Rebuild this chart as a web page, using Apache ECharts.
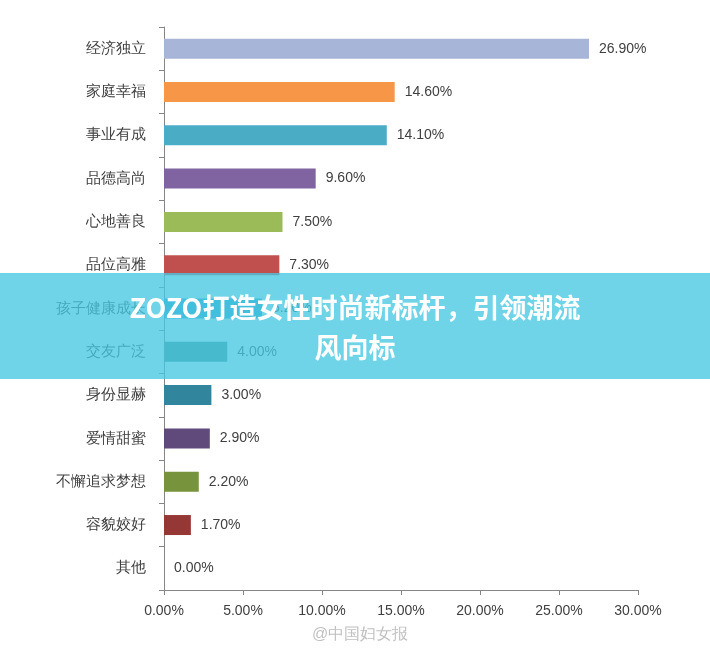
<!DOCTYPE html>
<html><head><meta charset="utf-8">
<script src="https://cdn.jsdelivr.net/npm/echarts@6/dist/echarts.min.js"></script>
<style>html,body{margin:0;background:#fff}#c{width:710px;height:655px}</style>
</head><body><div id="c"></div>
<script>
var categories = ['经济独立','家庭幸福','事业有成','品德高尚','心地善良','品位高雅','孩子健康成长','交友广泛','身份显赫','爱情甜蜜','不懈追求梦想','容貌姣好','其他'];
var values = [26.9,14.6,14.1,9.6,7.5,7.3,6.2,4.0,3.0,2.9,2.2,1.7,0];
var colors = ['#a7b5d8','#f79646','#4bacc6','#8064a2','#9bbb59','#c0504d','#2f9fc9','#4a8d86','#31859c','#604a7b','#77933c','#953735','#8eb4e3'];
var xTicks = [0,5,10,15,20,25,30];

var chart = echarts.init(document.getElementById('c'));
chart.setOption({
  animation: false,
  grid: { left: 164, right: 72, top: 27, bottom: 65 },
  xAxis: {
    type: 'value', min: xTicks[0], max: xTicks[xTicks.length - 1], interval: 5,
    axisLine: { show: true, lineStyle: { color: '#868686' } },
    axisTick: { show: true, lineStyle: { color: '#868686' } },
    splitLine: { show: false },
    axisLabel: { color: '#404040', fontSize: 14, margin: 14, formatter: function (v) { return v.toFixed(2) + '%'; } }
  },
  yAxis: {
    type: 'category', inverse: true, data: categories,
    axisLine: { lineStyle: { color: '#868686' } },
    axisTick: { show: true, lineStyle: { color: '#868686' } },
    axisLabel: { color: '#404040', fontSize: 15, margin: 18 }
  },
  series: [{
    type: 'bar', barWidth: 20,
    data: values.map(function (v, i) { return { value: v, itemStyle: { color: colors[i] } }; }),
    label: { show: true, position: 'right', distance: 10, color: '#404040', fontSize: 14,
      formatter: function (p) { return p.value.toFixed(2) + '%'; } }
  }],
  graphic: [
    { type: 'rect', left: 0, top: 273, z: 100, shape: { width: 710, height: 106 }, style: { fill: 'rgba(70,200,225,0.78)' } },
    { type: 'text', z: 101, style: {
      x: 355, y: 288, text: 'ZOZO打造女性时尚新标杆，引领潮流\n风向标', fill: '#fff', fontSize: 27, fontWeight: 'bold',
      lineHeight: 40, align: 'center', verticalAlign: 'top', fontFamily: 'Noto Sans CJK SC' } },
    { type: 'text', left: 312, top: 627, z: 101, style: { text: '@中国妇女报', fill: 'rgba(150,150,150,0.6)', fontSize: 16 } }
  ]
});
</script></body></html>
